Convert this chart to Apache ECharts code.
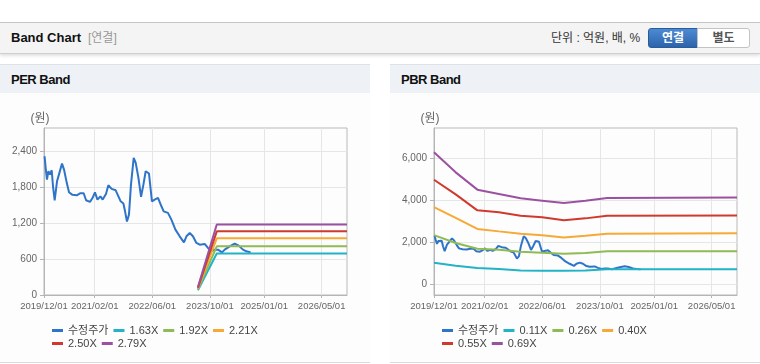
<!DOCTYPE html>
<html><head><meta charset="utf-8">
<script src="https://cdn.jsdelivr.net/npm/echarts@6/dist/echarts.min.js"></script>
<style>
body{margin:0;width:760px;height:364px;overflow:hidden;background:#fff;position:relative;font-family:"Liberation Sans","Noto Sans CJK KR",sans-serif;}
.topbar{position:absolute;left:0;top:22px;width:760px;height:30px;background:#f4f4f4;border-top:1px solid #c6c6c6;border-bottom:1px solid #cfcfcf;box-shadow:0 2px 3px rgba(0,0,0,0.12);}
.title{position:absolute;left:11px;top:0;line-height:30px;font-weight:bold;font-size:13px;color:#111;}
.sub{position:absolute;left:88px;top:0;line-height:30px;font-size:12px;color:#999;}
.unit{position:absolute;left:551px;top:0;line-height:30px;font-size:12px;color:#333;}
.btn{position:absolute;top:5px;height:20px;line-height:18px;font-size:12px;font-weight:bold;text-align:center;box-sizing:border-box;}
.b1{left:648px;width:50px;background:linear-gradient(#4d8ad3,#2c64ab);color:#fff;border:1px solid #2a5c9c;border-radius:3px 0 0 3px;}
.b2{left:697px;width:53px;background:#fff;color:#555;border:1px solid #c3c3c3;border-radius:0 3px 3px 0;}
.panel{position:absolute;top:64px;width:370px;height:298px;background:#fdfdfd;border-bottom:1px solid #dcdcdc;}
.phead{height:28px;line-height:29px;background:#eef2f7;border-top:1px solid #dde2e8;padding-left:11px;font-weight:bold;font-size:13px;letter-spacing:-0.5px;color:#111;}
#chart{position:absolute;left:0;top:0;width:760px;height:364px;}
</style></head>
<body>
<div class="topbar">
  <div class="title">Band Chart</div>
  <div class="sub">[연결]</div>
  <div class="unit">단위 : 억원, 배, %</div>
  <div class="btn b1">연결</div>
  <div class="btn b2">별도</div>
</div>
<div class="panel" style="left:0"><div class="phead">PER Band</div></div>
<div class="panel" style="left:390px"><div class="phead">PBR Band</div></div>
<div id="chart"></div>
<script>
// ---------- data ----------
const xTickLabels = ['2019/12/01','2021/02/01','2022/06/01','2023/10/01','2025/01/01','2026/05/01'];
const xRange = ['2019-12-01','2026-12-01'];
const perYTicks = [0, 600, 1200, 1800, 2400];
const pbrYTicks = [0, 2000, 4000, 6000];

const priceSeries = [
 ['2019-12-06',2310],['2019-12-15',2117],['2019-12-26',1922],['2020-01-07',2060],['2020-01-21',2005],
 ['2020-02-04',2077],['2020-02-15',1810],['2020-02-29',1577],['2020-03-20',1893],['2020-04-09',2033],
 ['2020-05-01',2188],['2020-05-18',2088],['2020-06-10',1867],['2020-06-29',1710],['2020-07-28',1667],
 ['2020-09-02',1660],['2020-09-30',1693],['2020-10-31',1693],['2020-11-20',1577],['2020-12-23',1550],
 ['2021-01-12',1610],['2021-02-03',1710],['2021-02-24',1588],['2021-03-21',1643],['2021-04-09',1588],
 ['2021-05-07',1683],['2021-05-27',1827],['2021-06-24',1767],['2021-07-28',1743],['2021-08-20',1643],
 ['2021-09-08',1560],['2021-10-01',1522],['2021-10-15',1393],['2021-10-31',1222],['2021-11-17',1338],
 ['2021-12-04',1838],['2021-12-27',2283],['2022-01-13',2200],['2022-02-05',1950],['2022-02-27',1633],
 ['2022-03-19',1838],['2022-04-07',2060],['2022-05-05',2022],['2022-05-12',1893],['2022-05-30',1560],
 ['2022-06-22',1588],['2022-07-20',1617],['2022-08-18',1477],['2022-09-06',1393],['2022-10-12',1367],
 ['2022-11-10',1255],['2022-12-14',1088],['2023-01-19',977],['2023-02-24',877],['2023-03-17',977],
 ['2023-04-14',1033],['2023-05-11',977],['2023-06-09',867],['2023-07-07',838],['2023-08-18',850],
 ['2023-09-15',783],['2023-10-14',727],['2023-11-11',755],['2023-12-08',755],['2024-01-11',710],
 ['2024-02-03',755],['2024-03-16',810],['2024-04-27',855],['2024-05-31',822],['2024-07-06',755],
 ['2024-08-04',727],['2024-09-09',710]
];

const perBandDates = ['2023-06-22','2023-11-28','2026-12-01'];
const per163 = [78, 690, 690];
const per192 = [92, 810, 810];
const per221 = [105, 943, 943];
const per250 = [119, 1060, 1060];
const per279 = [133, 1175, 1175];

const pbrBandDates = ['2019-12-01','2020-06-01','2020-12-01','2021-06-01','2021-12-01','2022-06-01','2022-12-01','2023-06-01','2023-12-01','2026-12-01'];
const pbr011 = [1030, 886, 776, 729, 662, 648, 648, 662, 710, 710];
const pbr026 = [2340, 1967, 1695, 1648, 1552, 1505, 1457, 1490, 1567, 1567];
const pbr040 = [3670, 3157, 2633, 2519, 2410, 2329, 2233, 2314, 2410, 2424];
const pbr055 = [4975, 4281, 3519, 3424, 3267, 3186, 3043, 3138, 3267, 3275];
const pbr069 = [6281, 5329, 4505, 4300, 4091, 3981, 3871, 3981, 4110, 4130];

// ---------- chart ----------
const C = {price:'#2f74c9', c1:'#22b3c6', c2:'#8fbb55', c3:'#f6a935', c4:'#d0392e', c5:'#9a52a0'};
const axisColor = '#b5b5b5', gridColor = '#e6e6e6', labelColor = '#666';
const numFont = '"Liberation Sans",sans-serif';
const legFont = '"Liberation Sans","Noto Sans CJK KR",sans-serif';
const ts = s => echarts.number.parseDate(s.replace(/\//g,'-')).getTime();
const xTickTimes = xTickLabels.map(ts);
const toTs = pairs => pairs.map(p => [ts(p[0]), p[1]]);
const zip = (dates, vals) => dates.map((d, i) => [ts(d), vals[i]]);

function xAxis(gi) {
  return {type:'value', gridIndex:gi, min:ts(xRange[0]), max:ts(xRange[1]),
    axisLine:{show:true, onZero:false, lineStyle:{color:axisColor}},
    axisTick:{show:true, length:3, customValues:xTickTimes, lineStyle:{color:axisColor}},
    axisLabel:{customValues:xTickTimes, showMinLabel:true, showMaxLabel:true, hideOverlap:false,
      formatter:v => { const i = xTickTimes.indexOf(v); return i >= 0 ? xTickLabels[i] : ''; },
      color:labelColor, fontSize:9.5, fontFamily:numFont, margin:6},
    splitLine:{show:true, lineStyle:{color:gridColor}}};
}
function yAxis(gi, min, max, ticks) {
  return {type:'value', gridIndex:gi, min, max, name:'(원)', nameLocation:'end', nameGap:3,
    nameTextStyle:{color:labelColor, fontSize:12, fontFamily:legFont, padding:[0,8,0,0]},
    axisLine:{show:true, lineStyle:{color:axisColor}},
    axisTick:{show:true, length:4, customValues:ticks, lineStyle:{color:axisColor}},
    axisLabel:{customValues:ticks, showMinLabel:true, color:labelColor, fontSize:10, fontFamily:numFont, margin:7},
    splitLine:{show:true, lineStyle:{color:gridColor}}};
}
function line(name, gi, data, color) {
  return {type:'line', name, xAxisIndex:gi, yAxisIndex:gi, data, symbol:'none', showSymbol:false,
    lineStyle:{width:2, color}, itemStyle:{color}, emphasis:{disabled:true}};
}
function legend(names, left, top) {
  return {data:names, left, top, orient:'horizontal', icon:'rect', itemWidth:11, itemHeight:3, itemGap:5, padding:0,
    selectedMode:false, textStyle:{color:'#444', fontSize:11, fontFamily:legFont, width:44}};
}

const chart = echarts.init(document.getElementById('chart'));
chart.setOption({
  animation:false,
  grid:[
    {left:44, top:128, width:303, height:167, show:true, borderColor:'#b9b9b9', borderWidth:1, backgroundColor:'transparent'},
    {left:434, top:128, width:303, height:167, show:true, borderColor:'#b9b9b9', borderWidth:1, backgroundColor:'transparent'}
  ],
  xAxis:[xAxis(0), xAxis(1)],
  yAxis:[yAxis(0, 0, 2780, perYTicks), yAxis(1, -510, 7440, pbrYTicks)],
  legend:[
    legend(['수정주가','1.63X','1.92X','2.21X'], 52, 325),
    legend(['2.50X','2.79X'], 52, 338),
    legend(['수정주가','0.11X','0.26X','0.40X'], 442, 325),
    legend(['0.55X','0.69X'], 442, 338)
  ],
  series:[
    line('수정주가', 0, toTs(priceSeries), C.price),
    line('1.63X', 0, zip(perBandDates, per163), C.c1),
    line('1.92X', 0, zip(perBandDates, per192), C.c2),
    line('2.21X', 0, zip(perBandDates, per221), C.c3),
    line('2.50X', 0, zip(perBandDates, per250), C.c4),
    line('2.79X', 0, zip(perBandDates, per279), C.c5),
    line('수정주가', 1, toTs(priceSeries), C.price),
    line('0.11X', 1, zip(pbrBandDates, pbr011), C.c1),
    line('0.26X', 1, zip(pbrBandDates, pbr026), C.c2),
    line('0.40X', 1, zip(pbrBandDates, pbr040), C.c3),
    line('0.55X', 1, zip(pbrBandDates, pbr055), C.c4),
    line('0.69X', 1, zip(pbrBandDates, pbr069), C.c5)
  ]
});
</script>
</body></html>
